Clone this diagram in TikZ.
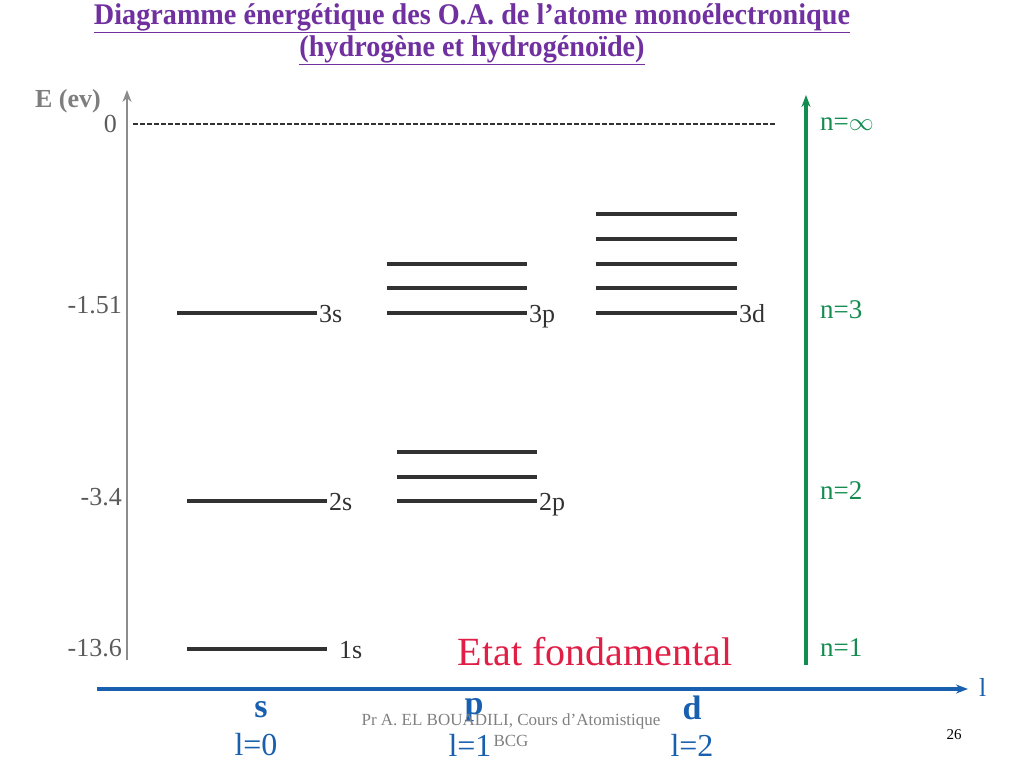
\documentclass[tikz,border=0pt]{standalone}
\usepackage{fontspec}
\setmainfont{Liberation Serif}
\usetikzlibrary{arrows.meta}
\definecolor{titlepurple}{RGB}{112,48,160}
\definecolor{levelgray}{RGB}{50,50,50}
\definecolor{axisgray}{RGB}{140,140,140}
\definecolor{ngreen}{RGB}{20,140,80}
\definecolor{lblue}{RGB}{25,95,175}
\definecolor{fondred}{RGB}{225,30,70}
\tikzset{
  level/.style={line width=4pt, levelgray},
  orblabel/.style={anchor=base west, inner sep=1pt, font=\fontsize{26}{28}\selectfont, text=levelgray},
  elabel/.style={anchor=east, inner sep=1pt, font=\fontsize{26}{28}\selectfont, text=levelgray!80},
  nlabel/.style={anchor=west, inner sep=1pt, font=\fontsize{27}{29}\selectfont, text=ngreen},
  lname/.style={font=\bfseries\fontsize{34}{36}\selectfont, text=lblue},
  lvalue/.style={font=\fontsize{32}{34}\selectfont, text=lblue},
  titre/.style={text=titlepurple, font=\bfseries\fontsize{30}{32}\selectfont},
}
\begin{document}
\begin{tikzpicture}[x=1pt, y=-1pt, line join=round, >={Stealth[length=12pt,width=9pt]}]
	\useasboundingbox (0,0) rectangle (1024,768);
	\path
	(127,660)coordinate(E0)
	(127,90)coordinate(E1)
	(806,665)coordinate(N0)
	(806,95)coordinate(N1)
	(97,689)coordinate(L0)
	(968,689)coordinate(L1)
	(133,124)coordinate(Z0)
	(776,124)coordinate(Z1)
	;
	% titre
	\node[titre] (titre1) at (472,18) {\underline{\scalebox{0.94}[1]{Diagramme énergétique des O.A. de l’atome monoélectronique}}};
	\node[titre] (titre2) at (472,50) {\underline{\scalebox{0.94}[1]{(hydrogène et hydrogénoïde)}}};
	% axes
	\draw[->, axisgray, line width=2pt] (E0)--(E1);
	\draw[->, ngreen, line width=4pt] (N0)--(N1);
	\draw[->, lblue, line width=4pt] (L0)--(L1);
	\draw[levelgray, line width=2pt, dash pattern=on 5pt off 2pt] (Z0)--(Z1);
	\node[text=axisgray!90!black, font=\bfseries\fontsize{26}{28}\selectfont] (Eaxe) at (68,101) {E (ev)};
	\node[elabel] (e0) at (118,124) {0};
	\node[elabel] (e3) at (123,305) {-1.51};
	\node[elabel] (e2) at (123,497) {-3.4};
	\node[elabel] (e1) at (123,648) {-13.6};
	\node[anchor=west, inner sep=1pt, font=\fontsize{26}{28}\selectfont, text=lblue] (laxe) at (978,687) {l};
	% niveaux s
	\draw[level] (177,313)--(317,313);
	\draw[level] (187,501)--(327,501);
	\draw[level] (187,649)--(327,649);
	\node[orblabel] (s3) at (318,322) {3s};
	\node[orblabel] (s2) at (328,510) {2s};
	\node[orblabel] (s1) at (338,658) {1s};
	% niveaux p
	\foreach \yy in {313,288,264} \draw[level] (387,\yy)--(527,\yy);
	\foreach \yy in {501,477,452} \draw[level] (397,\yy)--(537,\yy);
	\node[orblabel] (p3) at (528,322) {3p};
	\node[orblabel] (p2) at (538,510) {2p};
	% niveaux d
	\foreach \yy in {313,288,264,239,214} \draw[level] (596,\yy)--(737,\yy);
	\node[orblabel] (d3) at (738,322) {3d};
	% nombres quantiques n
	\node[nlabel] (ninf) at (819,124) {n=$\infty$};
	\node[nlabel] (n3) at (819,310) {n=3};
	\node[nlabel] (n2) at (819,491) {n=2};
	\node[nlabel] (n1) at (819,648) {n=1};
	\node[text=fondred, font=\fontsize{40}{42}\selectfont] (fond) at (595,652) {Etat fondamental};
	% sous-couches
	\node[lname] (ls) at (261,710) {s};
	\node[lname] (lp) at (474,710) {p};
	\node[lname] (ld) at (692,708) {d};
	\node[lvalue] (l0) at (256,745) {l=0};
	\node[lvalue] (l1) at (470,745) {l=1};
	\node[lvalue] (l2) at (692,745) {l=2};
	% pied de page
	\node[text=gray, font=\fontsize{17}{19}\selectfont] (auteur) at (511,721) {Pr A. EL BOUADILI, Cours d'Atomistique};
	\node[text=gray, font=\fontsize{17}{19}\selectfont] (bcg) at (511,741) {BCG};
	\node[font=\fontsize{15}{17}\selectfont] (page) at (954,735) {26};
\end{tikzpicture}
\end{document}
